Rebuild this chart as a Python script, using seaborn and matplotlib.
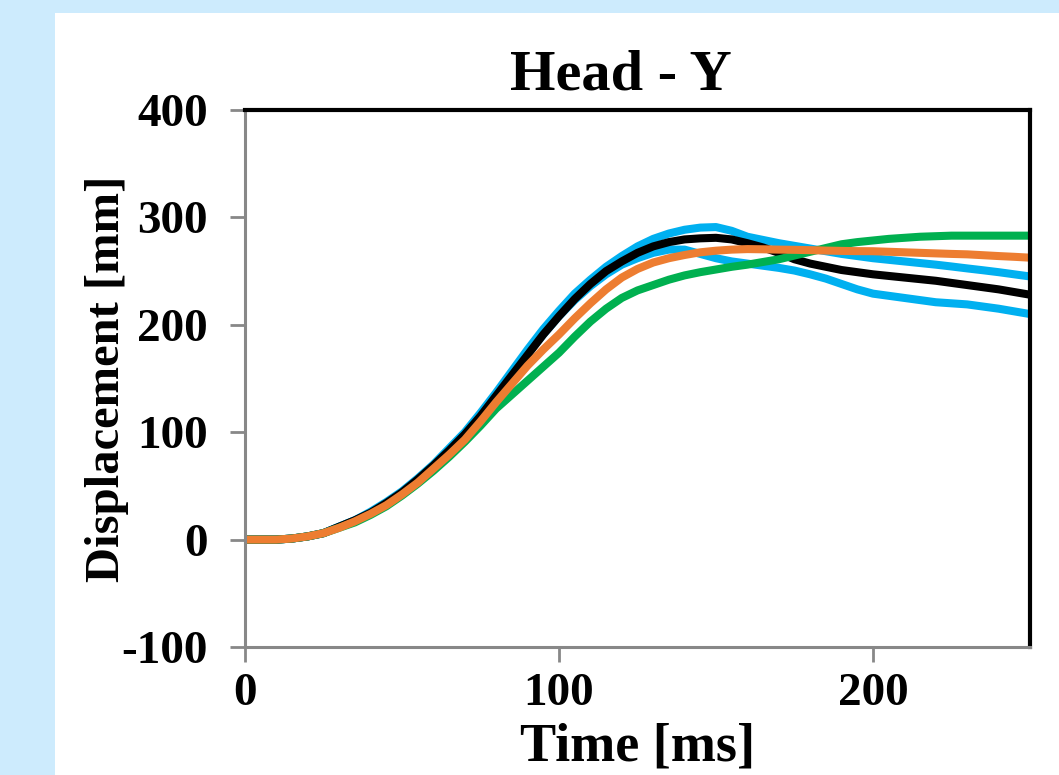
import numpy as np
import pandas as pd
import matplotlib
matplotlib.use("Agg")
import matplotlib.pyplot as plt
import seaborn as sns

# ---- data ----
time_ms = list(range(0, 251, 5))
cyan_upper = [0, 0, 0, 1, 3, 6, 12, 18, 26, 35, 45, 57, 70, 85, 100, 118,
              137, 157, 177, 196, 213, 229, 242, 254, 264, 273, 280, 285, 288.5, 290.5,
              291, 287.5, 282, 279, 276, 273.5, 271, 268.5, 266, 264, 262, 260.5, 259,
              257.5, 256, 254.3, 252.5, 250.8, 249, 247, 245]
cyan_lower = [0, 0, 0, 1, 3, 6, 12, 18, 25, 34, 44, 56, 69, 83, 98, 115,
              134, 153, 173, 191, 208, 223, 236, 247, 256, 262, 267, 270, 270, 266,
              262, 259, 257, 255, 253, 250.5, 247, 243, 238, 233, 229, 227, 225,
              223, 221, 220, 219, 217, 215, 212.5, 210]
black = [0, 0, 0, 1, 3, 6, 12, 18, 25, 34, 44, 56, 69, 83, 98, 115,
         134, 153, 172, 191, 208, 224, 238, 250, 259, 267, 273, 277, 279.5, 280.5,
         281, 279.5, 276, 272, 267, 261, 257, 254, 251, 249, 247, 245.5, 244,
         242.5, 241, 239, 237, 235, 233, 230.5, 228]
green = [0, 0, 0, 1, 3, 6, 11, 16, 23, 31, 41, 52, 64, 77, 91, 106,
         122, 135, 148, 161, 174, 189, 203, 215, 225, 232, 237, 242, 246, 249,
         251.5, 254, 256, 258.5, 261, 264.5, 268, 271.5, 275, 277, 278.5, 280, 281,
         282, 282.5, 283, 283, 283, 283, 283, 283]
orange = [0, 0, 0, 1, 3, 6, 11, 17, 24, 32, 42, 53, 66, 79, 93, 110,
          128, 145, 162, 177, 191, 206, 220, 233, 244, 252, 258, 262, 265, 267.5,
          269, 270, 270.5, 270.3, 270, 269.8, 269.5, 269.1, 268.8, 268.6, 268.5, 268,
          267.5, 267, 266.5, 266, 265.6, 264.8, 264, 263.3, 262.5]

series_names = ["cyan_upper", "cyan_lower", "black", "green", "orange"]
series_vals = [cyan_upper, cyan_lower, black, green, orange]
series_colors = ["#00b0f0", "#00b0f0", "#000000", "#00b050", "#ed7d31"]

x_ticks = [0, 100, 200]
y_ticks = [-100, 0, 100, 200, 300, 400]

df = pd.concat(
    [pd.DataFrame({"Time": time_ms, "Disp": v, "series": n})
     for n, v in zip(series_names, series_vals)],
    ignore_index=True,
)

# ---- styling ----
sns.set_style("ticks")
plt.rcParams["font.family"] = ["Liberation Serif", "DejaVu Serif"]
plt.rcParams["font.weight"] = "bold"
plt.rcParams["text.color"] = "black"
plt.rcParams["axes.labelcolor"] = "black"

W, H = 1059, 775
fig = plt.figure(figsize=(W / 100, H / 100), dpi=100, facecolor="#cdebfd")
bg = fig.add_axes([55 / W, 0, 1 - 55 / W, 1 - 12.5 / H], zorder=-10)
bg.set_facecolor("white")
bg.set_xticks([])
bg.set_yticks([])
for s in bg.spines.values():
    s.set_visible(False)

ax = fig.add_axes([245 / W, 1 - 647 / H, (1030 - 245) / W, (647 - 110) / H])
ax.set_facecolor("white")

sns.lineplot(data=df, x="Time", y="Disp", hue="series", hue_order=series_names,
             palette=dict(zip(series_names, series_colors)), linewidth=5.8,
             estimator=None, sort=False, legend=False, ax=ax,
             solid_joinstyle="round")

ax.set_xlim(0, 250)
ax.set_ylim(-100, 400)
ax.set_xticks(x_ticks)
ax.set_yticks(y_ticks)
ax.set_xticklabels([str(v) for v in x_ticks])
ax.set_yticklabels([str(v) for v in y_ticks])

for s in ["left", "bottom"]:
    ax.spines[s].set_color("#888888")
    ax.spines[s].set_linewidth(2.2)
for s in ["top", "right"]:
    ax.spines[s].set_color("black")
    ax.spines[s].set_linewidth(3)
    ax.spines[s].set_visible(True)

ax.tick_params(axis="y", direction="out", length=11, width=2, color="#888888",
               labelsize=34, pad=16, labelcolor="black")
ax.tick_params(axis="x", direction="out", length=11, width=2, color="#888888",
               labelsize=34, pad=8, labelcolor="black")

ax.set_title("Head - Y", fontsize=42, fontweight="bold", pad=15, x=0.479,
             color="black")
ax.set_xlabel("Time [ms]", fontsize=39, fontweight="bold", labelpad=5,
              color="black")
ax.set_ylabel("Displacement [mm]", fontsize=35, fontweight="bold", labelpad=-5.5,
              color="black")

fig.savefig("out.png", dpi=100, facecolor=fig.get_facecolor())
